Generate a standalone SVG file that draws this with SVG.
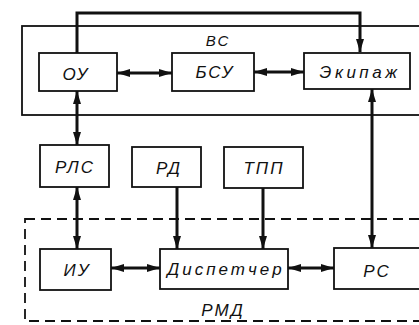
<svg xmlns="http://www.w3.org/2000/svg" width="419" height="325" viewBox="0 0 419 325">
<style>
.box{fill:#fff;stroke:#111;stroke-width:1.8}
.grp{fill:none;stroke:#111;stroke-width:1.8}
.dash{fill:none;stroke:#111;stroke-width:1.8;stroke-dasharray:10 6}
.con{fill:none;stroke:#111;stroke-width:3}
text{font-family:"Liberation Sans","DejaVu Sans",sans-serif;font-style:italic;font-size:17px;fill:#111;text-anchor:middle;letter-spacing:2px}
</style>
<defs>
<marker id="ah" markerUnits="userSpaceOnUse" markerWidth="14" markerHeight="10" refX="13" refY="4" orient="auto-start-reverse">
<path d="M0,0 L13,4 L0,8 z" fill="#111"/>
</marker>
</defs>
<g id="vs">
<rect class="grp" x="22" y="26" width="420" height="89"/>
<text x="218" y="46" style="font-size:15px">ВС</text>
</g>
<g id="rmd">
<rect class="dash" x="25" y="219" width="420" height="102"/>
<text x="223" y="316">РМД</text>
</g>
<g id="ou"><rect class="box" x="39" y="53" width="78" height="38"/><text x="76" y="80">ОУ</text></g>
<g id="bsu"><rect class="box" x="172" y="53" width="82" height="38"/><text x="215" y="78">БСУ</text></g>
<g id="ekipazh"><rect class="box" x="304" y="53" width="106" height="36"/><text x="360" y="78" style="letter-spacing:3.5px">Экипаж</text></g>
<g id="rls"><rect class="box" x="40" y="145" width="69" height="42"/><text x="75" y="173">РЛС</text></g>
<g id="rd"><rect class="box" x="132" y="147" width="69" height="40"/><text x="169" y="174">РД</text></g>
<g id="tpp"><rect class="box" x="224" y="147" width="79" height="41"/><text x="264" y="174">ТПП</text></g>
<g id="iu"><rect class="box" x="40" y="249" width="71" height="41"/><text x="77" y="276">ИУ</text></g>
<g id="disp"><rect class="box" x="160" y="249" width="128" height="40"/><text x="226" y="275" style="letter-spacing:3px">Диспетчер</text></g>
<g id="rs"><rect class="box" x="334" y="248" width="90" height="41"/><text x="377" y="277">РС</text></g>
<g id="connectors">
<path class="con" d="M77,53 V13 H360 V52" marker-end="url(#ah)"/>
<path class="con" d="M117,73 H172" marker-start="url(#ah)" marker-end="url(#ah)"/>
<path class="con" d="M254,72 H304" marker-start="url(#ah)" marker-end="url(#ah)"/>
<path class="con" d="M77,91 V145" marker-start="url(#ah)" marker-end="url(#ah)"/>
<path class="con" d="M372,89 V248" marker-start="url(#ah)" marker-end="url(#ah)"/>
<path class="con" d="M77,187 V249" marker-start="url(#ah)" marker-end="url(#ah)"/>
<path class="con" d="M177,187 V249" marker-end="url(#ah)"/>
<path class="con" d="M263,188 V249" marker-end="url(#ah)"/>
<path class="con" d="M111,268 H160" marker-start="url(#ah)" marker-end="url(#ah)"/>
<path class="con" d="M288,268 H334" marker-start="url(#ah)" marker-end="url(#ah)"/>
</g>
</svg>
